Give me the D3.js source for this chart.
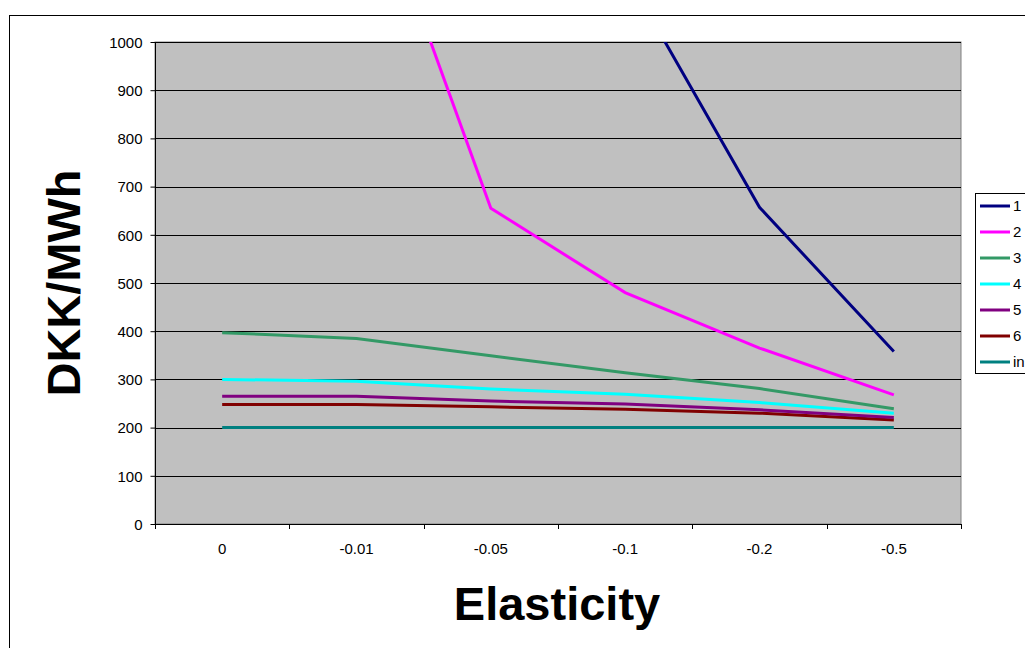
<!DOCTYPE html>
<html><head><meta charset="utf-8">
<script src="https://cdn.jsdelivr.net/npm/d3@7"></script>
<style>html,body{margin:0;padding:0;background:#fff;overflow:hidden}text{font-family:"Liberation Sans",Arial,sans-serif}</style>
</head><body><svg id="c" width="1025" height="648"></svg>
<script>
const categories = ["0", "-0.01", "-0.05", "-0.1", "-0.2", "-0.5"];
const seriesNames = ["1", "2", "3", "4", "5", "6", "in"];
const s1 = [5000, 3500, 2000, 1145, 657, 358];
const s2 = [2500, 1425, 655, 480, 365, 268];
const s3 = [397, 385, 349, 314, 281, 239];
const s4 = [300, 296, 280, 269, 252, 230];
const s5 = [265, 265, 255, 249, 237, 221];
const s6 = [248, 248, 243, 238, 230, 216];
const s7 = [200, 200, 200, 200, 200, 200];
const yTicks = [0, 100, 200, 300, 400, 500, 600, 700, 800, 900, 1000];
const colors = ["#000080", "#FF00FF", "#339966", "#00FFFF", "#800080", "#800000", "#008080"];
const allSeries = [s1, s2, s3, s4, s5, s6, s7];

const svg = d3.select("#c");
const L = 155, R = 961, T = 42, B = 524;
const FONT = "Liberation Sans, Arial, sans-serif";

// outer chart border
svg.append("rect").attr("x", 9.5).attr("y", 15.5).attr("width", 1030).attr("height", 640)
  .attr("fill", "#fff").attr("stroke", "#000").attr("stroke-width", 1);

const x = d3.scaleBand().domain(categories).range([L, R]).padding(0);
const y = d3.scaleLinear().domain([0, 1000]).range([B, T]);

svg.append("rect").attr("x", L).attr("y", T).attr("width", R - L).attr("height", B - T)
  .attr("fill", "#C0C0C0").attr("stroke", "#808080").attr("stroke-width", 1);

// gridlines
svg.append("g").selectAll("line").data(yTicks.filter(d => d > 0)).join("line")
  .attr("x1", L).attr("x2", R).attr("y1", d => Math.round(y(d)) + 0.5).attr("y2", d => Math.round(y(d)) + 0.5)
  .attr("stroke", "#000").attr("stroke-width", 1);

svg.append("defs").append("clipPath").attr("id", "clip")
  .append("rect").attr("x", L).attr("y", T).attr("width", R - L).attr("height", B - T);

const line = d3.line().x((d, i) => x(categories[i]) + x.bandwidth() / 2).y(d => y(d));
const lg = svg.append("g").attr("clip-path", "url(#clip)");
allSeries.slice().reverse().forEach((s, k) => {
  const i = allSeries.length - 1 - k;
  lg.append("path").datum(s).attr("d", line).attr("fill", "none")
    .attr("stroke", colors[i]).attr("stroke-width", 3).attr("stroke-linejoin", "miter");
});

// axes
const yAxis = d3.axisLeft(y).tickValues(yTicks).tickFormat(d3.format("d")).tickSize(5).tickPadding(8);
const gy = svg.append("g").attr("transform", `translate(${L + 0.5},0)`).call(yAxis)
  .attr("font-size", 15).attr("font-family", FONT);
gy.select(".domain").attr("stroke", "#000").attr("d", `M0,${T}V${B}`);
gy.selectAll(".tick line").attr("stroke", "#000");
gy.selectAll("text").attr("fill", "#000").attr("dy", "0.35em");

svg.append("line").attr("x1", L).attr("x2", R).attr("y1", B + 0.5).attr("y2", B + 0.5).attr("stroke", "#000");
const bounds = categories.map(c => x(c)).concat([R]);
svg.append("g").selectAll("line").data(bounds).join("line")
  .attr("x1", d => Math.round(d) + 0.5).attr("x2", d => Math.round(d) + 0.5)
  .attr("y1", B).attr("y2", B + 5).attr("stroke", "#000");
svg.append("g").selectAll("text").data(categories).join("text")
  .attr("x", d => x(d) + x.bandwidth() / 2).attr("y", 554).attr("text-anchor", "middle")
  .attr("font-size", 15).text(d => d);

// titles
svg.append("text").attr("x", 557).attr("y", 620).attr("text-anchor", "middle")
  .attr("font-size", 47).attr("font-weight", "bold").text("Elasticity");
svg.append("text").attr("transform", `translate(80,${(T + B) / 2}) rotate(-90)`).attr("text-anchor", "middle")
  .attr("font-size", 47).attr("font-weight", "bold").text("DKK/MWh");

// legend
const leg = svg.append("g");
leg.append("rect").attr("x", 975.5).attr("y", 193.5).attr("width", 80).attr("height", 180)
  .attr("fill", "#fff").attr("stroke", "#000").attr("stroke-width", 1);
seriesNames.forEach((n, i) => {
  const yy = 206 + i * 26;
  leg.append("line").attr("x1", 980).attr("x2", 1010).attr("y1", yy).attr("y2", yy)
    .attr("stroke", colors[i]).attr("stroke-width", 3);
  leg.append("text").attr("x", 1013).attr("y", yy + 5).attr("font-size", 15).text(n);
});
</script></body></html>
